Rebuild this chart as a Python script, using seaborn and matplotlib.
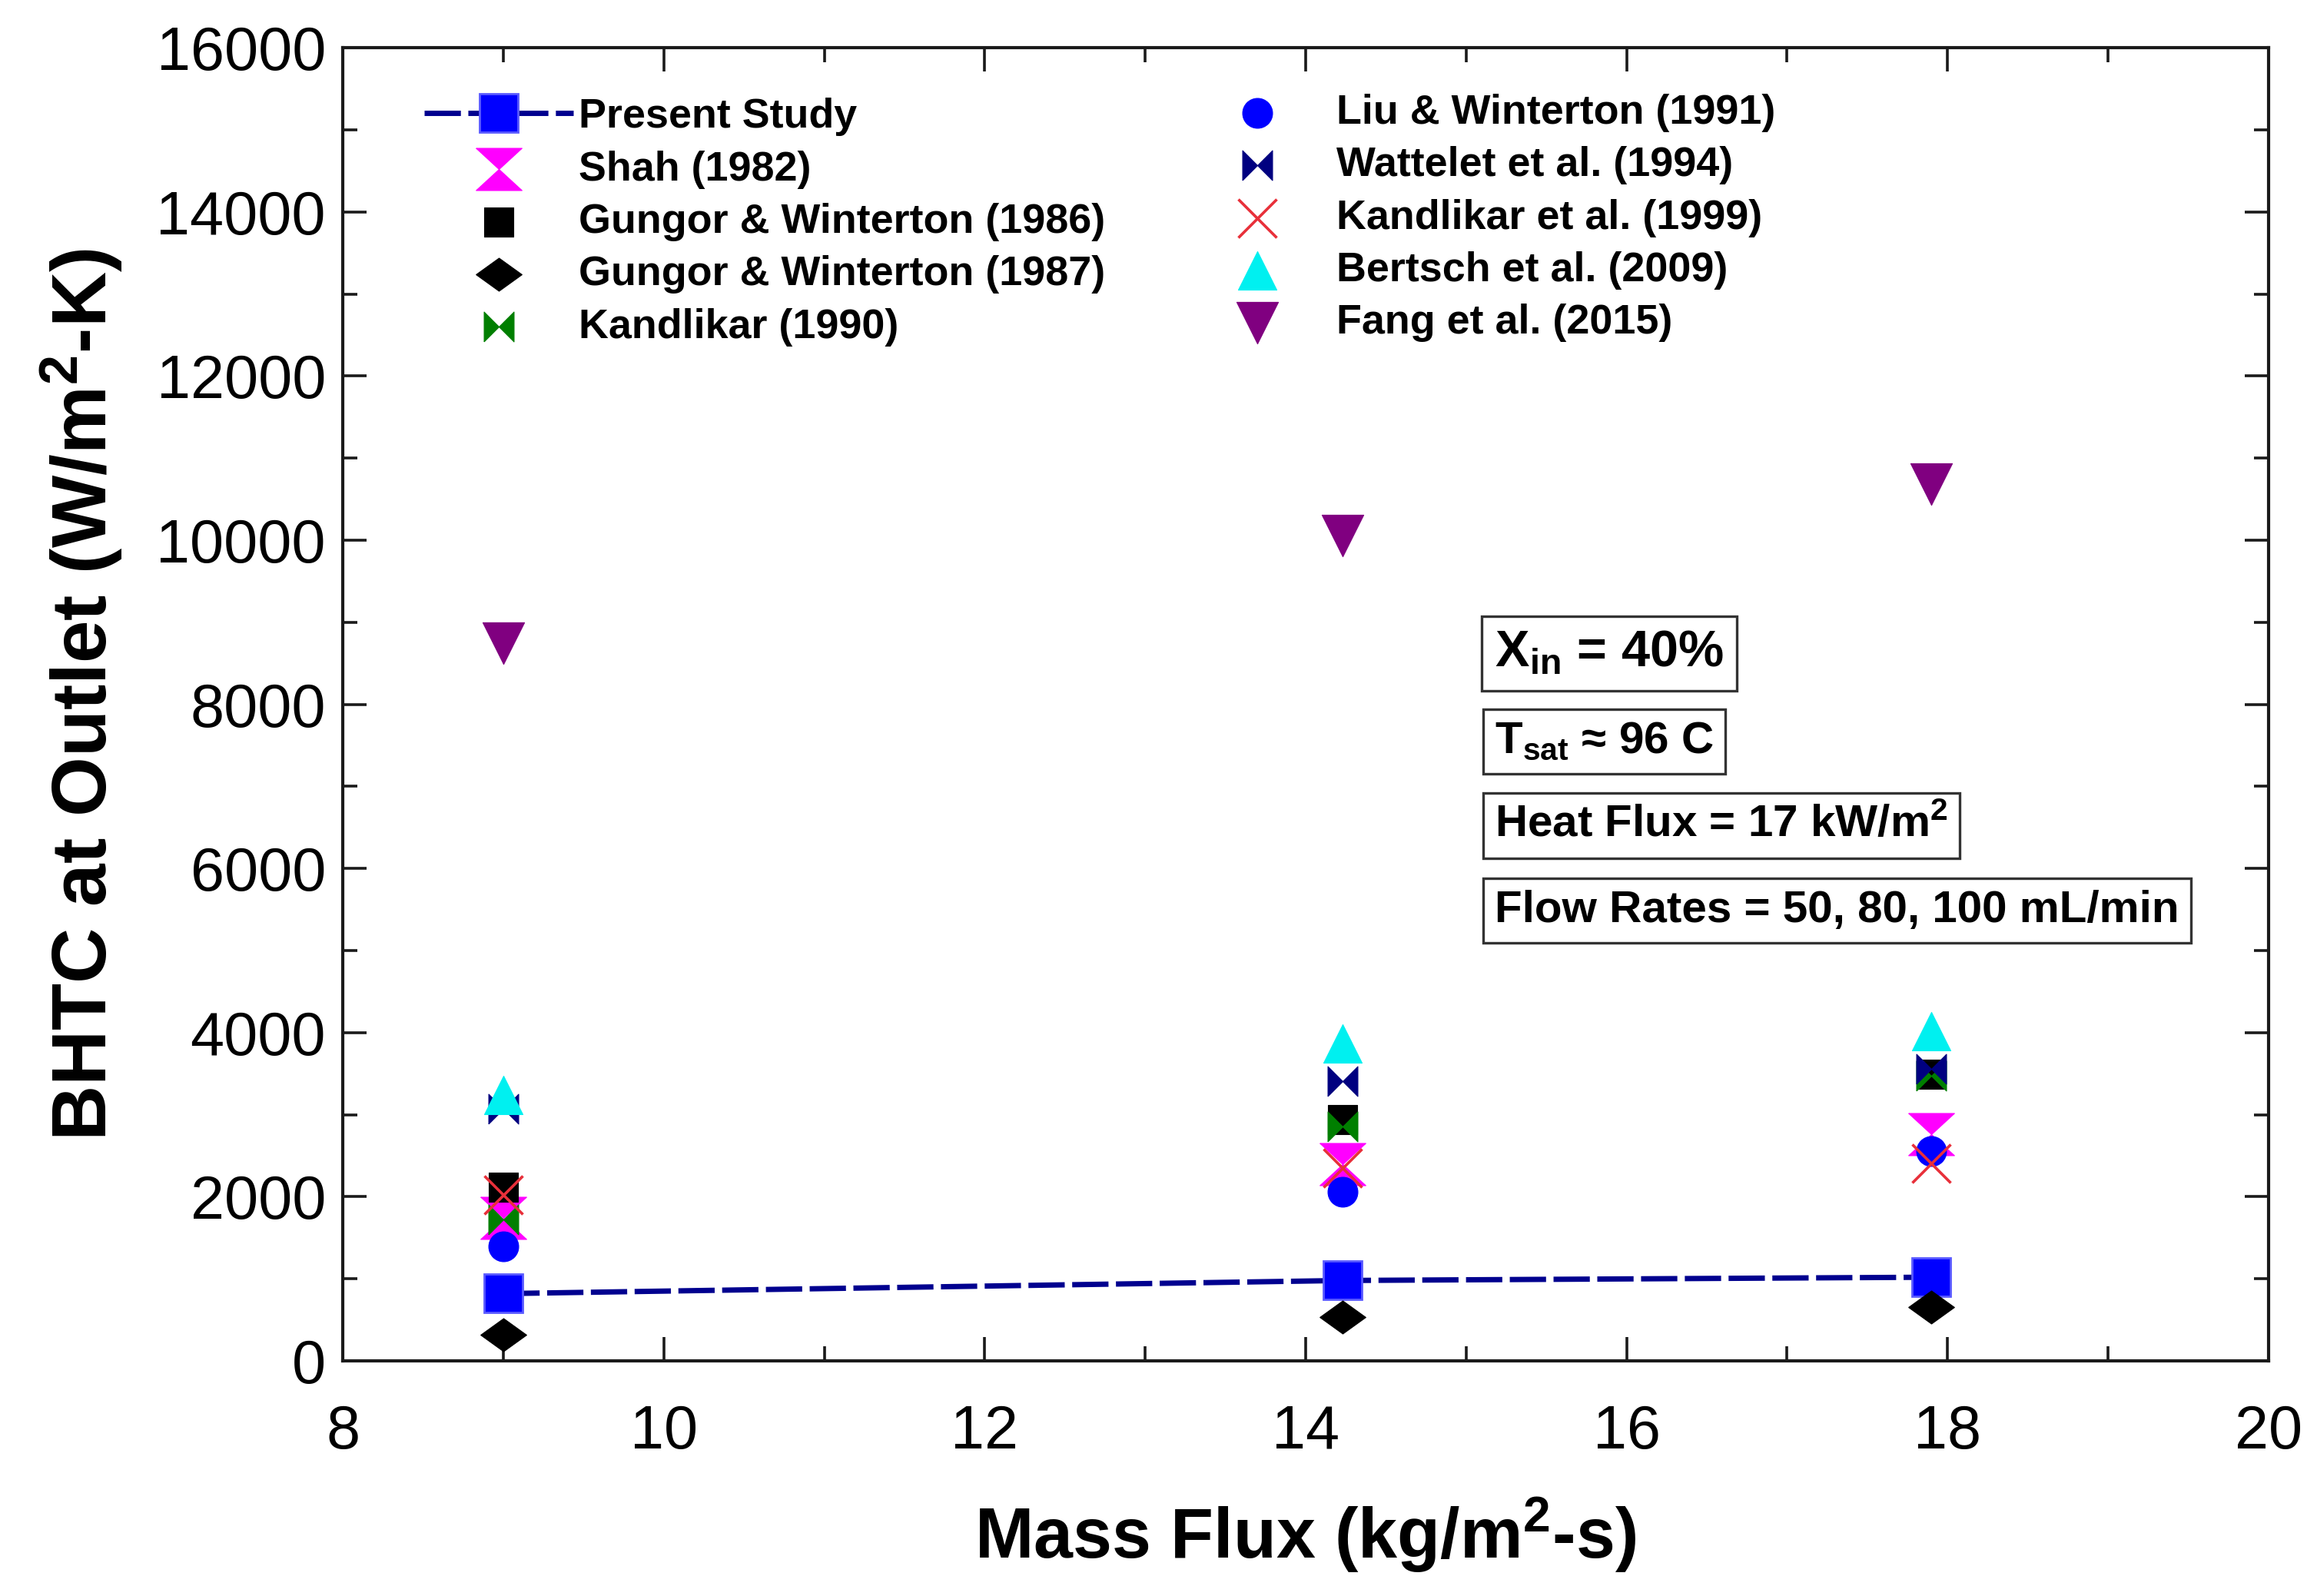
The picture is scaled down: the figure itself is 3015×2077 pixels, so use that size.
import seaborn as sns
import matplotlib.pyplot as plt
from matplotlib.path import Path
from matplotlib.ticker import MultipleLocator

# mass flux (kg/m2-s) for the three flow rates
mass_flux = [9.0, 14.23, 17.9]

# BHTC at outlet (W/m2-K)
present_study = [820, 980, 1020]
shah_1982 = [1740, 2400, 2760]
gungor_1986 = [2120, 2940, 3490]
gungor_1987 = [320, 530, 660]
kandlikar_1990 = [1720, 2860, 3470]
liu_1991 = [1400, 2060, 2560]
wattelet_1994 = [3070, 3410, 3560]
kandlikar_1999 = [2020, 2350, 2410]
bertsch_2009 = [3240, 3870, 4020]
fang_2015 = [8750, 10060, 10680]

labels = ["Present Study", "Shah (1982)", "Gungor & Winterton (1986)",
          "Gungor & Winterton (1987)", "Kandlikar (1990)",
          "Liu & Winterton (1991)", "Wattelet et al. (1994)",
          "Kandlikar et al. (1999)", "Bertsch et al. (2009)", "Fang et al. (2015)"]

info_lines = [r"X$_{in}$ = 40%", r"T$_{sat}$ ≈ 96 C",
              r"Heat Flux = 17 kW/m$^2$", "Flow Rates = 50, 80, 100 mL/min"]

# custom marker shapes
hourglass = Path([(-1, 0.92), (1, 0.92), (0, 0), (1, -0.92), (-1, -0.92), (0, 0), (-1, 0.92)])
bowtie = Path([(-1, -1), (-1, 1), (0, 0), (1, 1), (1, -1), (0, 0), (-1, -1)])
diamond = Path([(-1, 0), (0, 0.72), (1, 0), (0, -0.72), (-1, 0)])

sns.set_style("ticks")
plt.rcParams["font.family"] = ["Liberation Sans", "DejaVu Sans"]
plt.rcParams["mathtext.default"] = "regular"
for key in ["text.color", "axes.labelcolor", "xtick.color", "ytick.color"]:
    plt.rcParams[key] = "black"

fig = plt.figure(figsize=(15.075, 10.385), dpi=200)
ax = fig.add_axes([0.148, 0.1473, 0.831, 0.8227])

sns.lineplot(x=mass_flux, y=present_study, ax=ax, color="#00008F", lw=2.5,
             linestyle=(0, (6.8, 1.4)), marker="s", markersize=18,
             markerfacecolor="#0000FF", markeredgecolor="#5A5AFF",
             markeredgewidth=1.0, label=labels[0], zorder=3)

scatter_specs = [
    (shah_1982, hourglass, 21.5, "#FF00FF"),
    (gungor_1986, "s", 14, "#000000"),
    (gungor_1987, diamond, 21.5, "#000000"),
    (kandlikar_1990, bowtie, 14, "#007F00"),
    (liu_1991, "o", 14, "#0000FF"),
    (wattelet_1994, bowtie, 14, "#000080"),
    (kandlikar_1999, "x", 18, "#E8303A"),
    (bertsch_2009, "^", 18, "#00F0F0"),
    (fang_2015, "v", 19.5, "#800080"),
]

for (vals, mk, ms, col), lab in zip(scatter_specs, labels[1:]):
    if mk == "x":
        sns.scatterplot(x=mass_flux, y=vals, ax=ax, marker=mk, s=ms ** 2,
                        color=col, linewidth=1.3, label=lab, zorder=4)
    else:
        sns.scatterplot(x=mass_flux, y=vals, ax=ax, marker=mk, s=ms ** 2,
                        color=col, edgecolor=col, linewidth=0.4, label=lab, zorder=4)

ax.set_xlim(8, 20)
ax.set_ylim(0, 16000)
ax.xaxis.set_major_locator(MultipleLocator(2))
ax.xaxis.set_minor_locator(MultipleLocator(1))
ax.yaxis.set_major_locator(MultipleLocator(2000))
ax.yaxis.set_minor_locator(MultipleLocator(1000))

for sp in ax.spines.values():
    sp.set_linewidth(1.5)
    sp.set_color("#1a1a1a")
    sp.set_visible(True)

ax.tick_params(which="both", direction="in", top=True, right=True,
               color="#1a1a1a", width=1.3)
ax.tick_params(which="major", length=11, labelsize=28.5)
ax.tick_params(axis="x", which="major", pad=20)
ax.tick_params(axis="y", which="major", pad=8)
ax.tick_params(which="minor", length=7)

ax.set_xlabel(r"Mass Flux (kg/m$^2$-s)", fontsize=33, fontweight="bold", labelpad=16)
ax.set_ylabel(r"BHTC at Outlet (W/m$^2$-K)", fontsize=36, fontweight="bold", labelpad=16)
ax.yaxis.set_label_coords(-0.113, 0.507)

handles, labs = ax.get_legend_handles_labels()
if ax.get_legend():
    ax.get_legend().remove()

leg_kw = dict(frameon=False, prop={"weight": "bold", "size": 19.4}, handlelength=3.6,
              handletextpad=0.12, labelspacing=0.34, borderpad=0, borderaxespad=0,
              loc="upper left", scatterpoints=1)
leg1 = ax.legend(handles[:5], labs[:5], bbox_to_anchor=(0.0423, 0.962), **leg_kw)
ax.add_artist(leg1)
ax.legend(handles[5:], labs[5:], bbox_to_anchor=(0.436, 0.965), **leg_kw)

# condition boxes
box_y = [8620, 7546, 6526, 5487]
box_size = [24, 21, 21, 21]
for txt, yv, fs in zip(info_lines, box_y, box_size):
    ax.text(15.18, yv, txt, fontsize=fs, fontweight="bold", va="center", ha="left",
            bbox=dict(boxstyle="square,pad=0.26", fc="white", ec="#333333", lw=1.2))

fig.savefig("out.png", dpi=200)
